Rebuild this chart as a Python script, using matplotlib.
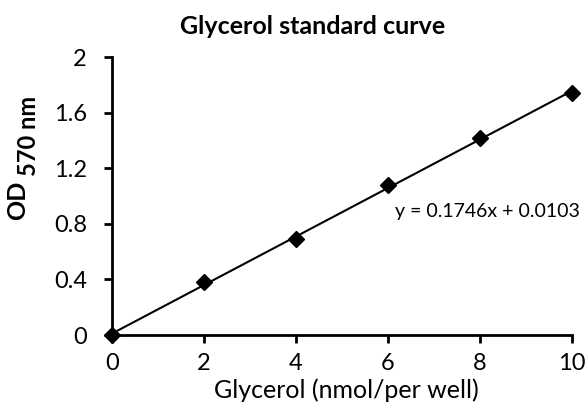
import matplotlib
matplotlib.use("Agg")
import matplotlib.pyplot as plt
import numpy as np

FONT = "Lato"
W, H = 587, 409

glycerol = [0, 2, 4, 6, 8, 10]
od570 = [0.0, 0.38, 0.69, 1.08, 1.42, 1.74]
slope = 0.1746
intercept = 0.0103
x_ticks = [0, 2, 4, 6, 8, 10]
y_ticks = [0, 0.4, 0.8, 1.2, 1.6, 2]
y_tick_labels = ["0", "0.4", "0.8", "1.2", "1.6", "2"]


def px(x, y):
    # pixel coords (from top-left) -> figure fraction
    return x / W, 1 - y / H


def main():
    plt.rcParams["font.family"] = FONT
    fig = plt.figure(figsize=(W / 100, H / 100), dpi=100)
    ax = fig.add_axes([112 / W, 1 - 335 / H, 460 / W, 278 / H])

    xs = np.array([min(glycerol), max(glycerol)])
    ax.plot(xs, slope * xs + intercept, color="black", lw=1.5, zorder=2)
    ax.plot(glycerol, od570, linestyle="none", marker="D", ms=8.5,
            color="black", zorder=3, clip_on=False)

    ax.set_xlim(0, 10)
    ax.set_ylim(0, 2)
    ax.set_xticks(x_ticks)
    ax.set_yticks(y_ticks)
    ax.set_yticklabels(y_tick_labels)
    for side in ["top", "right"]:
        ax.spines[side].set_visible(False)
    for side in ["left", "bottom"]:
        ax.spines[side].set_linewidth(2)
    ax.tick_params(direction="out", length=6, width=2, labelsize=17,
                   colors="black")
    ax.tick_params(axis="y", pad=12)
    ax.tick_params(axis="x", pad=7)

    fig.text(*px(346, 390), "Glycerol (nmol/per well)", fontsize=18,
             ha="center", va="center")
    fig.text(*px(313, 26), "Glycerol standard curve", fontsize=18,
             fontweight="bold", ha="center", va="center")

    fig.text(*px(18, 200), "OD", rotation=90, fontsize=18, fontweight="bold",
             ha="center", va="center")
    fig.text(*px(28, 136), "570 nm", rotation=90, fontsize=17,
             fontweight="bold", ha="center", va="center")

    fig.text(*px(395, 211), "y = 0.1746x + 0.0103", fontsize=14,
             ha="left", va="center")

    fig.savefig("out.png", dpi=100)
    plt.close(fig)


if __name__ == "__main__":
    main()
